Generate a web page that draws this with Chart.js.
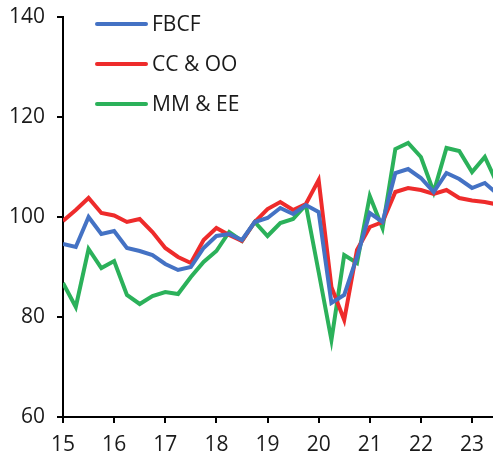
<!DOCTYPE html>
<html><head><meta charset="utf-8">
<script src="https://cdn.jsdelivr.net/npm/chart.js@4"></script>
<style>html,body{margin:0;padding:0;background:#fff}#wrap{width:493px;height:456px}</style>
</head><body><div id="wrap"><canvas id="c" width="493" height="456"></canvas></div>
<script>
const quarters = ['15Q1','15Q2','15Q3','15Q4','16Q1','16Q2','16Q3','16Q4','17Q1','17Q2','17Q3','17Q4','18Q1','18Q2','18Q3','18Q4','19Q1','19Q2','19Q3','19Q4','20Q1','20Q2','20Q3','20Q4','21Q1','21Q2','21Q3','21Q4','22Q1','22Q2','22Q3','22Q4','23Q1','23Q2','23Q3'];
const fbcf = [94.6,94.0,100.0,96.6,97.2,93.8,93.2,92.4,90.6,89.4,90.0,93.8,96.2,96.6,95.4,99.0,99.8,101.8,100.6,102.4,101.0,82.8,84.4,92.0,100.8,99.0,108.8,109.6,107.8,105.0,108.8,107.6,105.8,106.8,104.6];
const ccoo = [99.2,101.4,103.8,100.8,100.3,99.0,99.6,97.0,93.8,92.0,90.8,95.4,97.8,96.4,95.2,99.0,101.6,103.0,101.4,102.6,107.4,86.0,79.4,93.4,98.0,99.0,105.0,105.8,105.4,104.6,105.4,103.8,103.3,103.0,102.5];
const mmee = [86.8,82.0,93.6,89.8,91.2,84.4,82.6,84.2,85.0,84.6,88.0,91.0,93.2,97.0,95.2,99.0,96.2,98.8,99.6,102.4,89.0,75.4,92.4,90.8,104.2,97.8,113.6,114.8,112.0,105.0,113.8,113.2,109.0,112.0,106.5];
const xTickLabels = ['15','16','17','18','19','20','21','22','23'];
const yTickValues = [60,80,100,120,140];
const seriesNames = ['FBCF','CC & OO','MM & EE'];
const seriesColors = ['#4472C4','#EE2B2B','#2BB15A'];

function qx(q){ return parseInt(q.slice(0,2)) + (parseInt(q.slice(3)) - 1) / 4; }
function pts(vals){ return vals.map((v,i)=>({x: qx(quarters[i]), y: v})); }

const FONT = "'Open Sans', sans-serif";
const FS = 21;

const legendPlugin = {
  id: 'lineLegend',
  afterDraw(chart){
    const ctx = chart.ctx;
    const ca = chart.chartArea;
    ctx.save();
    chart.data.datasets.forEach((ds,i)=>{
      const y = ca.top + 7 + i*40;
      const x0 = ca.left + 34;
      ctx.strokeStyle = ds.borderColor;
      ctx.lineWidth = 4;
      ctx.lineCap = 'round';
      ctx.beginPath(); ctx.moveTo(x0, y); ctx.lineTo(x0 + 49, y); ctx.stroke();
      ctx.fillStyle = '#1a1a1a';
      ctx.font = FS + 'px ' + FONT;
      ctx.textBaseline = 'middle';
      ctx.textAlign = 'left';
      ctx.fillText(ds.label, x0 + 55, y + 1);
    });
    ctx.restore();
  }
};

new Chart(document.getElementById('c'), {
  type: 'line',
  data: {
    datasets: [fbcf, ccoo, mmee].map((vals,i)=>({
      label: seriesNames[i],
      data: pts(vals),
      borderColor: seriesColors[i],
      backgroundColor: seriesColors[i],
      borderWidth: 4,
      pointRadius: 0,
      tension: 0,
      borderJoinStyle: 'miter'
    }))
  },
  options: {
    responsive: false,
    animation: false,
    layout: { padding: { top: 17, right: 0, left: 0, bottom: 0 } },
    plugins: { legend: { display: false }, tooltip: { enabled: false } },
    scales: {
      x: {
        type: 'linear',
        min: 15, max: 23.41,
        afterBuildTicks(s){ s.ticks = xTickLabels.map(t=>({value: parseInt(t)})); },
        afterFit(s){ s.height = 39; s.paddingLeft = 0; s.paddingRight = 0; },
        ticks: { color: '#1a1a1a', font: { family: FONT, size: FS }, padding: 9, maxRotation: 0, autoSkip: false,
          callback: (v)=> String(v) },
        grid: { display: true, drawOnChartArea: false, drawTicks: true, tickLength: 6, color: '#000', lineWidth: 2 },
        border: { display: true, color: '#000', width: 2 }
      },
      y: {
        min: 60, max: 140,
        afterBuildTicks(s){ s.ticks = yTickValues.map(v=>({value: v})); },
        afterFit(s){ s.width = 63; s.paddingTop = 0; s.paddingBottom = 0; },
        ticks: { color: '#1a1a1a', font: { family: FONT, size: FS }, padding: 12 },
        grid: { display: true, drawOnChartArea: false, drawTicks: true, tickLength: 6, color: '#000', lineWidth: 2 },
        border: { display: true, color: '#000', width: 2 }
      }
    }
  },
  plugins: [legendPlugin]
});
</script></body></html>
